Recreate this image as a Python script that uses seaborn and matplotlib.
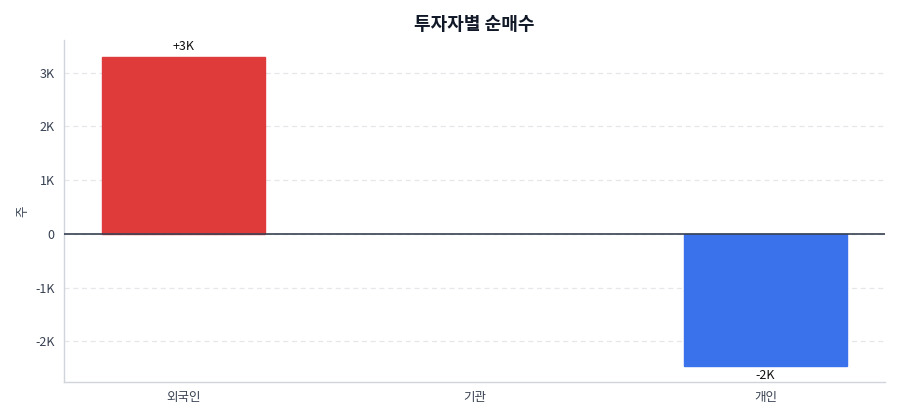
import matplotlib
matplotlib.use("Agg")
import matplotlib.pyplot as plt
import seaborn as sns
import pandas as pd
from matplotlib.ticker import FuncFormatter

# data
investors = ["외국인", "기관", "개인"]
net_buy = [3300, 0, -2460]
bar_colors = ["#DF3B3B", "#9CA3AF", "#3A72EC"]

sns.set_style("white")
plt.rcParams["font.family"] = ["Noto Sans CJK KR", "DejaVu Sans"]

df = pd.DataFrame({"investor": investors, "net": net_buy})

fig, ax = plt.subplots(figsize=(9, 4.2), dpi=100)
sns.barplot(data=df, x="investor", y="net", hue="investor", palette=bar_colors,
            width=0.56, legend=False, ax=ax, saturation=1)
for p, v in zip(ax.patches, net_buy):
    if v == 0:
        p.set_linewidth(0)
        continue
    p.set_edgecolor(p.get_facecolor())
    p.set_linewidth(1)

# value labels, skip zero
for i, v in enumerate(net_buy):
    if v == 0:
        continue
    txt = f"{v / 1000:+.0f}K"
    if v > 0:
        ax.text(i, v + 60, txt, ha="center", va="bottom", fontsize=9, color="#111111")
    else:
        ax.text(i, v - 60, txt, ha="center", va="top", fontsize=9, color="#111111")

ax.axhline(0, color="#374151", linewidth=1.2, zorder=3)
ax.set_xlim(-0.41, 2.41)
ax.set_ylim(-2760, 3610)
ax.set_yticks([-2000, -1000, 0, 1000, 2000, 3000])
ax.yaxis.set_major_formatter(FuncFormatter(lambda v, _: "0" if v == 0 else f"{v / 1000:.0f}K"))
ax.grid(axis="y", linestyle=(0, (4, 3)), color="#E5E7EB", linewidth=0.9)
ax.set_axisbelow(True)

for s in ["top", "right"]:
    ax.spines[s].set_visible(False)
for s in ["left", "bottom"]:
    ax.spines[s].set_color("#D1D5DB")
    ax.spines[s].set_linewidth(1)
ax.tick_params(axis="both", colors="#4B5563", labelsize=9, length=3, width=1,
               labelcolor="#374151")

ax.set_xlabel("")
ax.set_ylabel("주", fontsize=9, color="#374151")
ax.set_title("투자자별 순매수", fontsize=13, fontweight="bold", color="#111827", pad=7)

plt.subplots_adjust(left=0.071, right=0.983, top=0.905, bottom=0.09)
plt.savefig("out.png", dpi=100)
